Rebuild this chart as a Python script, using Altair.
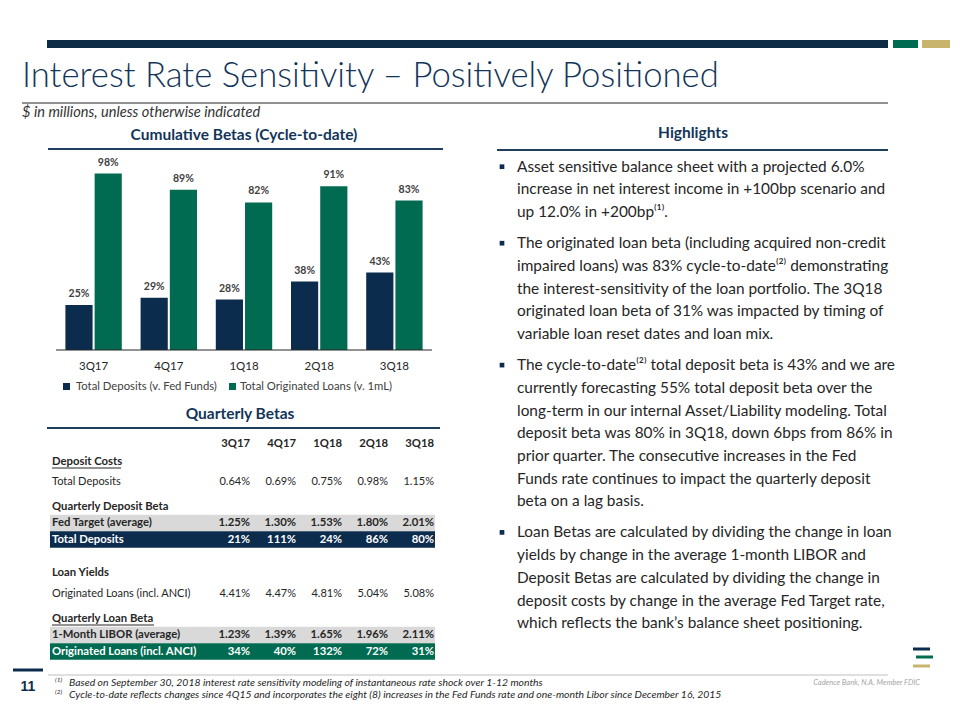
import altair as alt
import pandas as pd

OFF = 8  # page margin: chart pixel = slide pixel - OFF

# ---------------- data ----------------
quarters = ["3Q17", "4Q17", "1Q18", "2Q18", "3Q18"]
series_names = ["Total Deposits (v. Fed Funds)", "Total Originated Loans (v. 1mL)"]
cum_deposit_beta = [0.25, 0.29, 0.28, 0.38, 0.43]
cum_loan_beta = [0.98, 0.89, 0.82, 0.91, 0.83]

deposit_costs = [0.64, 0.69, 0.75, 0.98, 1.15]
fed_target = [1.25, 1.30, 1.53, 1.80, 2.01]
deposit_beta_q = [21, 111, 24, 86, 80]
loan_yields = [4.41, 4.47, 4.81, 5.04, 5.08]
libor_1m = [1.23, 1.39, 1.65, 1.96, 2.11]
loan_beta_q = [34, 40, 132, 72, 31]

highlights = [
    ["Asset sensitive balance sheet with a projected 6.0%",
     "increase in net interest income in +100bp scenario and",
     "up 12.0% in +200bp\u207d\u00b9\u207e."],
    ["The originated loan beta (including acquired non-credit",
     "impaired loans) was 83% cycle-to-date\u207d\u00b2\u207e demonstrating",
     "the interest-sensitivity of the loan portfolio.  The 3Q18",
     "originated loan beta of 31% was impacted by timing of",
     "variable loan reset dates and loan mix."],
    ["The cycle-to-date\u207d\u00b2\u207e total deposit beta is 43% and we are",
     "currently forecasting 55% total deposit beta over the",
     "long-term in our internal Asset/Liability modeling. Total",
     "deposit beta was 80% in 3Q18, down 6bps from 86% in",
     "prior quarter. The consecutive increases in the Fed",
     "Funds rate continues to impact the quarterly deposit",
     "beta on a lag basis."],
    ["Loan Betas are calculated by dividing the change in loan",
     "yields by change in the average 1-month LIBOR and",
     "Deposit Betas are calculated by dividing the change in",
     "deposit costs by change in the average Fed Target rate,",
     "which reflects the bank\u2019s balance sheet positioning."],
]
footnotes = [
    "Based on September 30, 2018 interest rate sensitivity modeling of instantaneous rate shock over 1-12 months",
    "Cycle-to-date reflects changes since 4Q15 and incorporates the eight (8) increases in the Fed Funds rate and one-month Libor since December 16, 2015",
]

# ---------------- style ----------------
FONT = "Lato"
NAVY = "#0c2c4d"
GREEN = "#006b50"
GOLD = "#c8b46c"
TITLE_NAVY = "#13355a"
DARK = "#262626"
GRAY_BG = "#d9d9d9"


def P(v):
    return v - OFF


def txt(text, x, y, size, color=DARK, weight="normal", style="normal",
        align="left", baseline="middle", font=FONT):
    return alt.Chart(pd.DataFrame({"t": [text]})).mark_text(
        align=align, baseline=baseline, fontSize=size, font=font,
        fontWeight=weight, fontStyle=style, color=color
    ).encode(x=alt.value(P(x)), y=alt.value(P(y)), text="t:N")


def rect(x1, x2, y1, y2, color):
    return alt.Chart(pd.DataFrame({"a": [0]})).mark_rect(color=color).encode(
        x=alt.value(P(x1)), x2=alt.value(P(x2)), y=alt.value(P(y1)), y2=alt.value(P(y2)))


def hline(x1, x2, y, color, w=1):
    return alt.Chart(pd.DataFrame({"a": [0]})).mark_rule(color=color, strokeWidth=w).encode(
        x=alt.value(P(x1)), x2=alt.value(P(x2)), y=alt.value(P(y)))


layers = []

# header decoration
layers += [rect(47, 888, 40, 48, "#0d2b45"), rect(893, 918, 40, 48, GREEN), rect(922, 950, 40, 48, GOLD)]
layers.append(txt("Interest Rate Sensitivity \u2013 Positively Positioned", 22, 87, 34.7,
                  color=TITLE_NAVY, weight=300, baseline="alphabetic"))
layers.append(hline(22, 888, 103, "#222222", 1))
layers.append(txt("$ in millions, unless otherwise indicated", 22, 113, 14.6, color="#333333", style="italic"))

# section titles
layers.append(txt("Cumulative  Betas (Cycle-to-date)", 244, 135, 15.5, color=TITLE_NAVY, weight="bold", align="center"))
layers.append(hline(48, 443, 149, "#1f3d5c", 2))
layers.append(txt("Quarterly Betas", 240, 414, 15.5, color=TITLE_NAVY, weight="bold", align="center"))
layers.append(hline(47, 440, 428, "#1f3d5c", 2))
layers.append(txt("Highlights", 693, 133, 15.5, color=TITLE_NAVY, weight="bold", align="center"))
layers.append(hline(497, 888, 150, "#1f3d5c", 2))

# ---------------- bar chart ----------------
bar_df = pd.DataFrame({
    "quarter": quarters * 2,
    "series": [series_names[0]] * 5 + [series_names[1]] * 5,
    "value": cum_deposit_beta + cum_loan_beta,
})
xs = alt.Scale(domain=quarters, range=[P(56), P(432)], paddingInner=0.25, paddingOuter=0.125)
ys = alt.Scale(domain=[0, 1], range=[P(350), P(170)])
base = alt.Chart(bar_df).encode(
    x=alt.X("quarter:N", scale=xs, axis=None, sort=quarters),
    xOffset=alt.XOffset("series:N", scale=alt.Scale(domain=series_names, paddingInner=0.07)),
    y=alt.Y("value:Q", scale=ys, axis=None),
)
bars = base.mark_bar().encode(
    color=alt.Color("series:N", scale=alt.Scale(domain=series_names, range=[NAVY, GREEN]), legend=None))
bar_labels = base.mark_text(dy=-11, fontSize=10.5, fontWeight="bold", font=FONT, color="#404040").encode(
    text=alt.Text("value:Q", format=".0%"))
cat_labels = alt.Chart(pd.DataFrame({"quarter": quarters})).mark_text(
    fontSize=11.5, font=FONT, color=DARK, baseline="middle").encode(
    x=alt.X("quarter:N", scale=xs, axis=None, sort=quarters), y=alt.value(P(367)), text="quarter:N")
bar_chart = alt.layer(bars, bar_labels, cat_labels)
layers.append(bar_chart)
layers.append(hline(56, 432, 350, "#262626", 1))

# legend
layers += [rect(63, 70, 383, 390, NAVY), txt(series_names[0], 76, 387, 11.3, color="#404040"),
           rect(229, 236, 383, 390, GREEN), txt(series_names[1], 240, 387, 11.3, color="#404040")]

# ---------------- table ----------------
def pct2(vals):
    return [f"{v:.2f}%" for v in vals]


def pct0(vals):
    return [f"{v}%" for v in vals]

# (label, values, style, y centre, background)
table_rows = [
    ("", quarters, "bold", 444, None),
    ("Deposit Costs", None, "bold", 462, None),
    ("Total Deposits", pct2(deposit_costs), "normal", 482, None),
    ("Quarterly Deposit Beta", None, "bold", 507, None),
    ("Fed Target (average)", pct2(fed_target), "bold", 523, GRAY_BG),
    ("Total Deposits", pct0(deposit_beta_q), "white", 539.5, NAVY),
    ("Loan Yields", None, "bold", 573, None),
    ("Originated Loans (incl. ANCI)", pct2(loan_yields), "normal", 593.5, None),
    ("Quarterly Loan Beta", None, "bold", 619, None),
    ("1-Month LIBOR (average)", pct2(libor_1m), "bold", 635, GRAY_BG),
    ("Originated Loans (incl. ANCI)", pct0(loan_beta_q), "white", 651.5, GREEN),
]
ROW_H = 16.5
for label, vals, style, yc, bg in table_rows:
    if bg:
        layers.append(rect(50, 435, yc - ROW_H / 2, yc + ROW_H / 2, bg))

cell_recs = []
label_recs = []
for label, vals, style, yc, bg in table_rows:
    if label:
        label_recs.append({"t": label, "y": P(yc), "style": style})
    if vals:
        for q, v in zip(quarters, vals):
            cell_recs.append({"col": q, "t": v, "y": P(yc), "style": style})
cells = pd.DataFrame(cell_recs)
labs = pd.DataFrame(label_recs)
col_scale = alt.Scale(type="point", domain=quarters, range=[P(250), P(434)], padding=0)

style_props = {"normal": ("normal", DARK, 11), "bold": ("bold", DARK, 11.3), "white": ("bold", "#ffffff", 11.3)}
for st, (w, c, fs) in style_props.items():
    sub = cells[cells["style"] == st]
    layers.append(alt.Chart(sub).mark_text(align="right", baseline="middle", fontSize=fs, font=FONT,
                                           fontWeight=w, color=c).encode(
        x=alt.X("col:N", scale=col_scale, axis=None, sort=quarters),
        y=alt.Y("y:Q", scale=None), text="t:N"))
    sub = labs[labs["style"] == st]
    layers.append(alt.Chart(sub).mark_text(align="left", baseline="middle", fontSize=fs, font=FONT,
                                           fontWeight=w, color=c).encode(
        x=alt.value(P(52)), y=alt.Y("y:Q", scale=None), text="t:N"))
# underlines
layers.append(hline(52, 121, 468, DARK, 1))
layers.append(hline(52, 154, 625, DARK, 1))

# ---------------- highlights ----------------
LINE = 22.7
PGAP = 8.4
hl_recs = []
bullet_recs = []
y = 166.7
for para in highlights:
    bullet_recs.append({"y": P(y)})
    for line in para:
        hl_recs.append({"t": line, "y": P(y)})
        y += LINE
    y += PGAP
layers.append(alt.Chart(pd.DataFrame(hl_recs)).mark_text(
    align="left", baseline="middle", fontSize=15.4, font=FONT, color=DARK).encode(
    x=alt.value(P(517)), y=alt.Y("y:Q", scale=None), text="t:N"))
layers.append(alt.Chart(pd.DataFrame(bullet_recs)).mark_point(
    shape="square", filled=True, size=22, color=NAVY, opacity=1).encode(
    x=alt.value(P(502)), y=alt.Y("y:Q", scale=None)))

# ---------------- footer ----------------
layers.append(hline(13, 43, 670, NAVY, 3))
layers.append(txt("11", 28, 687, 14, color=NAVY, weight="bold", align="center", font="Liberation Sans"))
layers.append(hline(48, 888, 675, "#bfbfbf", 1))
for i, fn in enumerate(footnotes):
    yy = 682.5 + i * 12.5
    layers.append(txt(f"({i + 1})", 55, yy - 3, 6.5, color=DARK, style="italic"))
    layers.append(txt(fn, 69, yy, 10.4, color=DARK, style="italic"))
layers.append(txt("Cadence Bank, N.A. Member FDIC", 920, 683, 7.5, color="#a6a6a6", style="italic", align="right"))
layers += [hline(913, 930, 649, NAVY, 3), hline(916, 933, 657, GREEN, 3), hline(913, 930, 666, GOLD, 3)]

chart = alt.layer(*layers).resolve_scale(
    x="independent", y="independent", color="independent"
).properties(
    width=944, height=704, padding=0, autosize=alt.AutoSizeParams(type="none")
).configure_view(stroke=None)

chart.save("out.html", embed_options={"renderer": "svg", "actions": False})
